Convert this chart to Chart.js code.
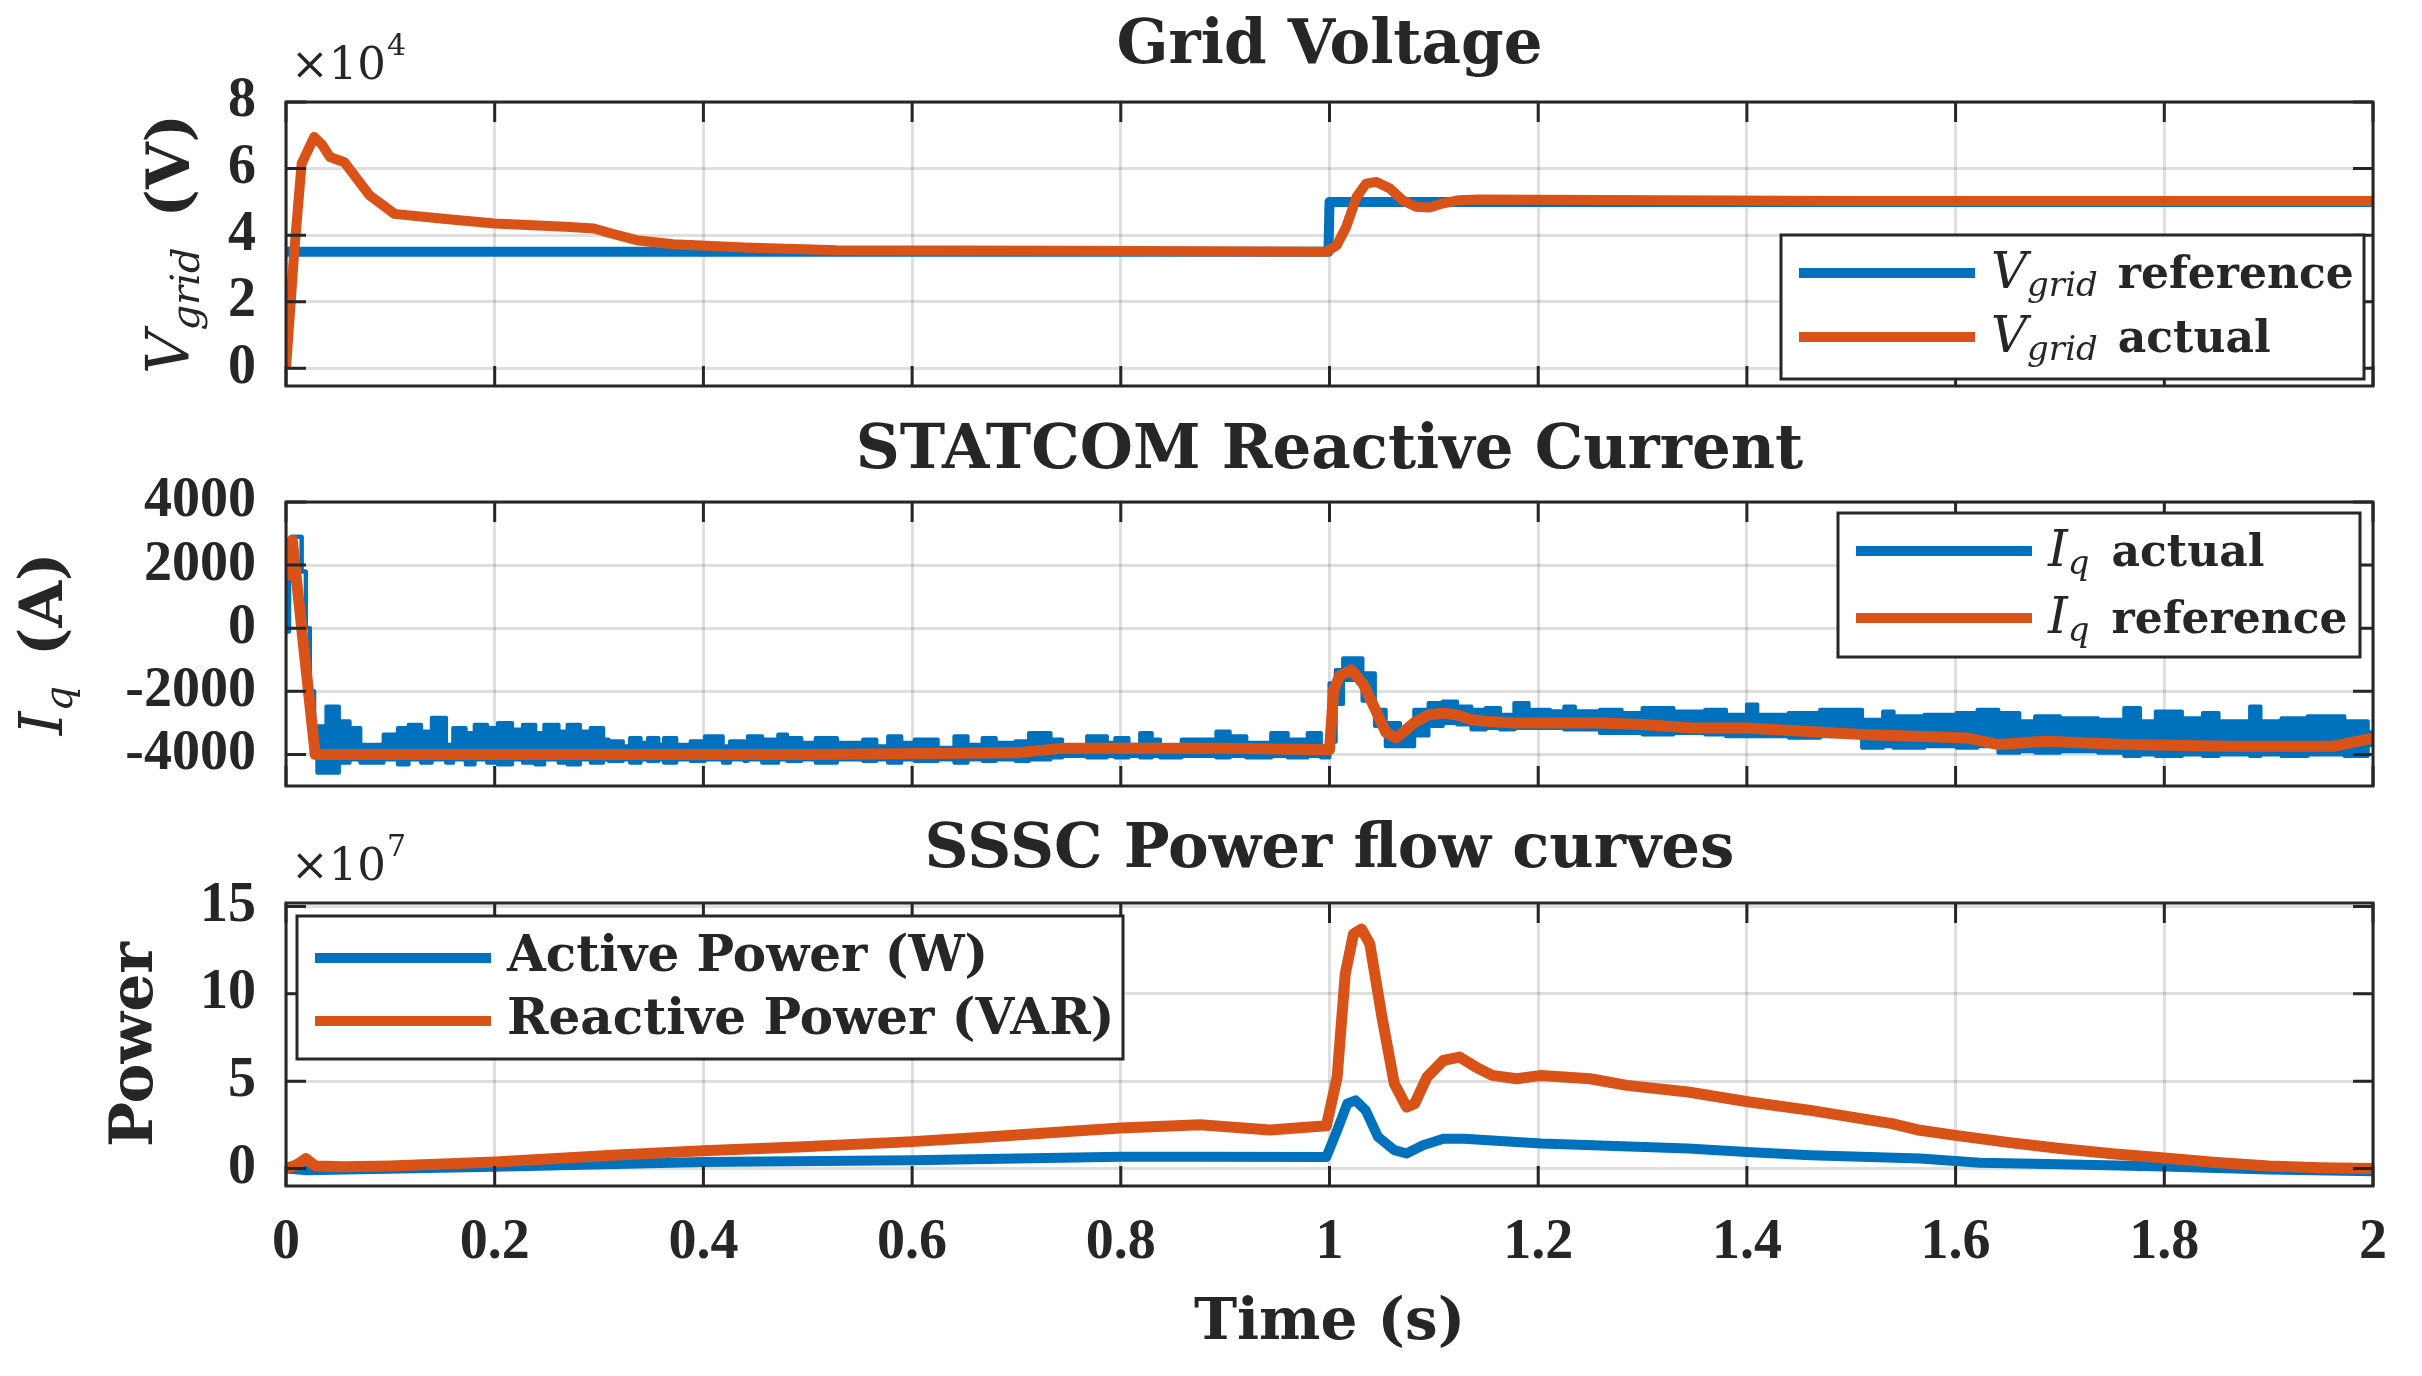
<!DOCTYPE html>
<html>
<head>
<meta charset="utf-8">
<script src="https://cdn.jsdelivr.net/npm/chart.js@4.4.1/dist/chart.umd.min.js"></script>
<style>
    html, body { margin: 0; padding: 0; background: #fff; overflow: hidden; }
    #wrap { position: relative; width: 2422px; height: 1376px; }
    canvas { position: absolute; left: 0; }
</style>
</head>
<body>
<div id="wrap">
    <canvas id="c1" width="2422" height="405" style="top:0px"></canvas>
    <canvas id="c2" width="2422" height="395" style="top:405px"></canvas>
    <canvas id="c3" width="2422" height="576" style="top:800px"></canvas>
</div>
<script>
// ---- data ----
const TIME_TICKS = [0, 0.2, 0.4, 0.6, 0.8, 1, 1.2, 1.4, 1.6, 1.8, 2];

// Grid voltage (V)
const V_TICKS = [0, 20000, 40000, 60000, 80000];
const vRefT = [0, 0.999, 1.0, 2.0];
const vRefV = [35000, 35000, 50000, 50000];
const vActT = [0, 0.008, 0.015, 0.027, 0.035, 0.042, 0.056, 0.080, 0.104, 0.148, 0.200, 0.268, 0.295, 0.312,
    0.336, 0.371, 0.439, 0.528, 0.750, 0.997, 1.007, 1.016, 1.026, 1.035, 1.045, 1.058, 1.070, 1.083, 1.096,
    1.108, 1.124, 1.143, 1.500, 2.000];
const vActV = [0, 35500, 61500, 69500, 67000, 63500, 61900, 52000, 46400, 45000, 43500, 42500, 42000, 40500,
    38500, 37300, 36300, 35500, 35300, 35000, 37000, 42500, 51500, 55500, 56000, 54000, 50500, 48500, 48300,
    49500, 50500, 50700, 50300, 50300];

// STATCOM reactive current (A)
const IQ_TICKS = [-4000, -2000, 0, 2000, 4000];
const iqRefT = [0, 0.006, 0.028, 0.200, 0.500, 0.700, 0.745, 0.900, 1.000, 1.004, 1.010, 1.021, 1.032, 1.044,
    1.054, 1.064, 1.081, 1.095, 1.109, 1.122, 1.136, 1.150, 1.177, 1.260, 1.300, 1.348, 1.400, 1.510, 1.611,
    1.641, 1.686, 1.762, 1.862, 1.962, 2.000];
const iqRefV = [1530, 2790, -4000, -4000, -4000, -3950, -3800, -3800, -3850, -1950, -1500, -1320, -1750, -2580,
    -3300, -3480, -3000, -2740, -2690, -2740, -2900, -2950, -3000, -3000, -3050, -3160, -3160, -3370, -3476,
    -3687, -3582, -3687, -3740, -3740, -3480];
// measured actual current: upper and lower edge of the noisy trace
const iqActT = [0, 0.003, 0.005, 0.015, 0.019, 0.023, 0.027, 0.030, 0.0387, 0.0507, 0.061, 0.0713, 0.0935,
    0.1072, 0.1175, 0.1294, 0.1397, 0.1534, 0.1602, 0.1722, 0.1808, 0.1927, 0.2030, 0.2167, 0.2270, 0.2390,
    0.2475, 0.2612, 0.2698, 0.2817, 0.2920, 0.3040, 0.3091, 0.3228, 0.3297, 0.3399, 0.3468, 0.3570, 0.3622,
    0.3741, 0.3878, 0.4015, 0.4186, 0.4255, 0.4392, 0.4426, 0.4563, 0.4717, 0.4802, 0.4939, 0.5076, 0.5280,
    0.5531, 0.5658, 0.5770, 0.5897, 0.6024, 0.6246, 0.6405, 0.6532, 0.6675, 0.6802, 0.6993, 0.7120, 0.7327,
    0.7438, 0.7677, 0.7867, 0.7947, 0.8074, 0.8185, 0.8297, 0.8376, 0.8583, 0.8916, 0.9044, 0.9203, 0.9441,
    0.9600, 0.9791, 0.9918, 1.0000, 1.0060, 1.0130, 1.0316, 1.0435, 1.0539, 1.0676, 1.0812, 1.0949, 1.1086,
    1.1223, 1.1360, 1.1497, 1.1634, 1.1771, 1.1908, 1.2113, 1.2250, 1.2352, 1.2592, 1.2800, 1.3000, 1.3296,
    1.3600, 1.3800, 1.4000, 1.4100, 1.4400, 1.4702, 1.5104, 1.5305, 1.5406, 1.5700, 1.6009, 1.6210, 1.6410,
    1.6611, 1.6762, 1.7000, 1.7365, 1.7616, 1.7767, 1.7918, 1.8169, 1.8370, 1.8520, 1.8822, 1.8922, 1.9123,
    1.9374, 1.9726, 1.9950, 2.0000];
const iqActHi = [-100, 1500, 2900, 1800, 0, -2000, -3800, -3110, -2480, -2950, -3160, -3690, -3370,
    -3160, -3060, -3270, -2840, -3690, -3160, -3320, -3060, -3160, -3000, -3210, -3060, -3320,
    -3060, -3270, -3060, -3270, -3160, -3530, -3580, -3740, -3480, -3630, -3480, -3690, -3480,
    -3690, -3580, -3420, -3740, -3580, -3740, -3420, -3530, -3370, -3480, -3630, -3480, -3630,
    -3530, -3740, -3420, -3630, -3530, -3790, -3420, -3690, -3480, -3630, -3580, -3320, -3530,
    -3790, -3420, -3630, -3480, -3690, -3320, -3530, -3740, -3530, -3270, -3420, -3630, -3320,
    -3530, -3320, -3740, -1740, -1320, -950, -1425, -2580, -3000, -3210, -2580, -2370, -2320,
    -2480, -2580, -2530, -2740, -2370, -2580, -2630, -2480, -2630, -2580, -2690, -2530, -2640,
    -2580, -2740, -2420, -2740, -2690, -2580, -2900, -2640, -2790, -2740, -2690, -2580, -2690,
    -2950, -2790, -2850, -2900, -2530, -2950, -2640, -2850, -2690, -2950, -2480, -2950, -2850,
    -2790, -2950, -3300, -3300];
const iqActLo = [-100, 1500, 2900, 1800, 0, -2000, -3800, -4580, -4580, -4260, -4160, -4260, -4160,
    -4320, -4160, -4260, -4160, -4260, -4160, -4320, -4160, -4260, -4320, -4160, -4260, -4320,
    -4160, -4260, -4320, -4160, -4260, -4160, -4210, -4160, -4260, -4160, -4210, -4160, -4260,
    -4160, -4210, -4160, -4260, -4160, -4210, -4160, -4260, -4160, -4210, -4160, -4260, -4160,
    -4210, -4160, -4260, -4160, -4210, -4160, -4260, -4160, -4210, -4160, -4210, -4160, -4100,
    -4050, -4100, -4050, -4100, -4050, -4100, -4050, -4100, -4050, -4100, -4050, -4100, -4050,
    -4100, -4050, -4100, -3600, -2400, -1640, -2300, -3100, -3740, -3740, -3400, -3100, -3000,
    -3050, -3210, -3160, -3210, -3160, -3160, -3160, -3210, -3210, -3320, -3320, -3370, -3320,
    -3370, -3420, -3420, -3420, -3470, -3420, -3790, -3740, -3790, -3740, -3790, -3740, -3950,
    -3900, -3950, -3900, -3950, -4050, -4000, -4050, -4000, -4050, -4000, -4050, -4000, -4050,
    -4000, -4050, -3700, -3700];

// SSSC power flow
const P_TICKS = [0, 5e7, 10e7, 15e7];
const pReaT = [0, 0.010, 0.019, 0.028, 0.056, 0.100, 0.200, 0.313, 0.400, 0.496, 0.600, 0.679, 0.753, 0.800,
    0.876, 0.943, 0.997, 1.0073, 1.0151, 1.0230, 1.0308, 1.0386, 1.0503, 1.0621, 1.0738, 1.0816, 1.0934,
    1.1091, 1.1247, 1.1403, 1.1560, 1.1794, 1.2029, 1.2498, 1.2850, 1.3437, 1.4024, 1.4610, 1.5197, 1.5390,
    1.5660, 1.6000, 1.6500, 1.7000, 1.7500, 1.8000, 1.8500, 1.9000, 1.9500, 2.0000];
const pReaV = [0, 0.2e7, 0.57e7, 0.15e7, 0.1e7, 0.15e7, 0.37e7, 0.76e7, 1.02e7, 1.25e7, 1.54e7, 1.83e7, 2.13e7,
    2.32e7, 2.51e7, 2.2e7, 2.45e7, 5.23e7, 11.14e7, 13.43e7, 13.71e7, 12.86e7, 8.66e7, 4.86e7, 3.52e7, 3.71e7,
    5.23e7, 6.19e7, 6.38e7, 5.81e7, 5.33e7, 5.14e7, 5.33e7, 5.14e7, 4.76e7, 4.38e7, 3.81e7, 3.33e7, 2.76e7,
    2.57e7, 2.19e7, 1.9e7, 1.5e7, 1.15e7, 0.85e7, 0.6e7, 0.35e7, 0.15e7, 0.05e7, 0];
const pActT = [0, 0.020, 0.200, 0.400, 0.600, 0.800, 0.876, 0.997, 1.0073, 1.0170, 1.0249, 1.0347, 1.0465,
    1.0621, 1.0738, 1.0895, 1.1091, 1.1286, 1.2029, 1.3437, 1.4000, 1.4610, 1.5660, 1.6230, 1.7000, 1.8000,
    1.9000, 2.0000];
const pActV = [0, -0.1e7, 0.1e7, 0.37e7, 0.47e7, 0.67e7, 0.67e7, 0.66e7, 2.19e7, 3.71e7, 3.9e7, 3.33e7, 1.81e7,
    1.05e7, 0.86e7, 1.33e7, 1.71e7, 1.71e7, 1.43e7, 1.14e7, 0.95e7, 0.76e7, 0.57e7, 0.33e7, 0.25e7, 0.12e7,
    -0.05e7, -0.15e7];

// ---- styling ----
const AXIS = '#262626';
const BLUE = '#0072BD';
const ORANGE = '#D95319';
const GRID = 'rgba(38, 38, 38, 0.15)';
const SERIF = '"DejaVu Serif", serif';
const TICK_FAMILY = '"Liberation Serif", serif';
const TICK_LEN = 20;
const PLOT_RIGHT = 2373;

const pts = (ts, vs) => ts.map((t, i) => ({ x: t, y: vs[i] }));

function richWidth(ctx, parts) {
    let w = 0;
    parts.forEach((p) => {
        ctx.font = p.font;
        w += ctx.measureText(p.text).width + (p.gap || 0);
    });
    return w;
}

function drawRich(ctx, x, y, parts) {
    parts.forEach((p) => {
        ctx.font = p.font;
        ctx.fillText(p.text, x, y + (p.dy || 0));
        x += ctx.measureText(p.text).width + (p.gap || 0);
    });
}

function panelPlugin(cfg) {
    return {
        id: 'panel',
        afterDatasetsDraw(chart) {
            const { ctx, chartArea: a, scales: { x, y } } = chart;
            ctx.save();
            ctx.textBaseline = 'alphabetic';
            ctx.textAlign = 'left';

            // inward ticks and box
            ctx.strokeStyle = AXIS;
            ctx.lineWidth = 3;
            ctx.beginPath();
            x.ticks.forEach((t) => {
                const px = x.getPixelForValue(t.value);
                ctx.moveTo(px, a.bottom); ctx.lineTo(px, a.bottom - TICK_LEN);
                ctx.moveTo(px, a.top); ctx.lineTo(px, a.top + TICK_LEN);
            });
            y.ticks.forEach((t) => {
                const py = y.getPixelForValue(t.value);
                ctx.moveTo(a.left, py); ctx.lineTo(a.left + TICK_LEN, py);
                ctx.moveTo(a.right, py); ctx.lineTo(a.right - TICK_LEN, py);
            });
            ctx.stroke();
            ctx.strokeRect(a.left, a.top, a.right - a.left, a.bottom - a.top);

            // legend
            const L = cfg.legend;
            const bx = a.left + L.x;
            const by = a.top + L.y;
            ctx.fillStyle = '#fff';
            ctx.fillRect(bx, by, L.w, L.h);
            ctx.strokeStyle = AXIS;
            ctx.lineWidth = 3;
            ctx.strokeRect(bx, by, L.w, L.h);
            L.rows.forEach((r, i) => {
                const cy = by + L.rowY[i];
                ctx.strokeStyle = r.color;
                ctx.lineWidth = 10;
                ctx.beginPath();
                ctx.moveTo(bx + 18, cy);
                ctx.lineTo(bx + 194, cy);
                ctx.stroke();
                ctx.fillStyle = AXIS;
                drawRich(ctx, bx + 210, cy + L.textDy, r.parts);
            });

            ctx.fillStyle = AXIS;
            // title
            ctx.font = 'bold 61px ' + SERIF;
            ctx.textAlign = 'center';
            ctx.fillText(cfg.title, (a.left + a.right) / 2, a.top + cfg.titleDy);
            ctx.textAlign = 'left';

            // exponent marker
            if (cfg.exponent) {
                ctx.font = '45px ' + SERIF;
                ctx.fillText('\u00d710', a.left + 5, a.top - 23);
                const w = ctx.measureText('\u00d710').width;
                ctx.font = '30px ' + SERIF;
                ctx.fillText(cfg.exponent, a.left + 5 + w + 1, a.top - 47);
            }

            // y label, rotated
            ctx.save();
            ctx.translate(cfg.yLabelX, (a.top + a.bottom) / 2);
            ctx.rotate(-Math.PI / 2);
            const yw = richWidth(ctx, cfg.yLabel);
            drawRich(ctx, -yw / 2, 0, cfg.yLabel);
            ctx.restore();

            // x label
            if (cfg.xLabel) {
                ctx.font = 'bold 58px ' + SERIF;
                ctx.textAlign = 'center';
                ctx.fillText(cfg.xLabel, (a.left + a.right) / 2, a.bottom + 153);
            }
            ctx.restore();
        },
    };
}

function makePanel(id, cfg) {
    const canvas = document.getElementById(id);
    return new Chart(canvas, {
        type: 'line',
        data: { datasets: cfg.datasets },
        options: {
            responsive: false,
            animation: false,
            devicePixelRatio: 1,
            events: [],
            layout: {
                autoPadding: false,
                padding: { left: 0, right: canvas.width - PLOT_RIGHT, top: cfg.top, bottom: 0 },
            },
            elements: {
                point: { radius: 0 },
                line: { tension: 0, borderJoinStyle: 'round', fill: false },
            },
            plugins: {
                legend: { display: false },
                tooltip: { enabled: false },
                title: { display: false },
            },
            scales: {
                x: {
                    type: 'linear',
                    min: 0,
                    max: 2,
                    afterBuildTicks: (s) => { s.ticks = TIME_TICKS.map((v) => ({ value: v })); },
                    afterFit: (s) => {
                        s.height = cfg.xHeight;
                        s.paddingLeft = 0;
                        s.paddingRight = 0;
                    },
                    grid: { color: GRID, lineWidth: 3, drawTicks: false },
                    border: { display: false },
                    ticks: {
                        display: !!cfg.xLabel,
                        padding: 24,
                        autoSkip: false,
                        maxRotation: 0,
                        color: AXIS,
                        font: { family: TICK_FAMILY, weight: 'bold', size: 56 },
                        callback: (v) => String(Math.round(v * 10) / 10),
                    },
                },
                y: {
                    type: 'linear',
                    min: cfg.yMin,
                    max: cfg.yMax,
                    afterBuildTicks: (s) => { s.ticks = cfg.yTicks.map((v) => ({ value: v })); },
                    afterFit: (s) => {
                        s.width = 286;
                        s.paddingTop = 0;
                        s.paddingBottom = 0;
                    },
                    grid: { color: GRID, lineWidth: 3, drawTicks: false },
                    border: { display: false },
                    ticks: {
                        padding: 30,
                        color: AXIS,
                        font: { family: TICK_FAMILY, weight: 'bold', size: 56 },
                        callback: cfg.yFormat,
                    },
                },
            },
        },
        plugins: [panelPlugin(cfg)],
    });
}

const ital = (t, size, dy, gap) => ({ text: t, font: 'italic ' + size + 'px ' + SERIF, dy: dy || 0, gap: gap || 0 });
const bold = (t, size, gap) => ({ text: t, font: 'bold ' + size + 'px ' + SERIF, gap: gap || 0 });

makePanel('c1', {
    top: 102,
    xHeight: 19,
    yMin: -5300,
    yMax: 80000,
    yTicks: V_TICKS,
    yFormat: (v) => String(v / 1e4),
    title: 'Grid Voltage',
    titleDy: -39,
    exponent: '4',
    yLabelX: 189,
    yLabel: [ital('V', 60), ital('grid', 40, 10, 30), bold('(V)', 60)],
    legend: {
        x: 1495, y: 133, w: 583, h: 144, rowY: [38, 102], textDy: 15,
        rows: [
            { color: BLUE, parts: [ital('V', 50), ital('grid', 34, 8, 20), bold('reference', 44)] },
            { color: ORANGE, parts: [ital('V', 50), ital('grid', 34, 8, 20), bold('actual', 44)] },
        ],
    },
    datasets: [
        { data: pts(vActT, vActV), borderColor: ORANGE, borderWidth: 10, order: 0 },
        { data: pts(vRefT, vRefV), borderColor: BLUE, borderWidth: 10, order: 1 },
    ],
});

makePanel('c2', {
    top: 97,
    xHeight: 14,
    yMin: -5000,
    yMax: 4000,
    yTicks: IQ_TICKS,
    yFormat: (v) => String(v),
    title: 'STATCOM Reactive Current',
    titleDy: -34,
    exponent: null,
    yLabelX: 62,
    yLabel: [ital('I', 60), ital('q', 40, 10, 30), bold('(A)', 60)],
    legend: {
        x: 1552, y: 11, w: 522, h: 144, rowY: [38, 105], textDy: 15,
        rows: [
            { color: BLUE, parts: [ital('I', 50), ital('q', 34, 8, 22), bold('actual', 44)] },
            { color: ORANGE, parts: [ital('I', 50), ital('q', 34, 8, 22), bold('reference', 44)] },
        ],
    },
    datasets: [
        { data: pts(iqRefT, iqRefV), borderColor: ORANGE, borderWidth: 11, order: 0 },
        { data: pts(iqActT, iqActHi), borderColor: BLUE, borderWidth: 4, stepped: true, order: 1 },
        { data: pts(iqActT, iqActLo), borderColor: BLUE, borderWidth: 4, stepped: true, order: 2,
          fill: '-1', backgroundColor: BLUE },
    ],
});

makePanel('c3', {
    top: 103,
    xHeight: 190,
    yMin: -1.0e7,
    yMax: 15.2e7,
    yTicks: P_TICKS,
    yFormat: (v) => String(Math.round(v / 1e7)),
    title: 'SSSC Power flow curves',
    titleDy: -36,
    exponent: '7',
    xLabel: 'Time (s)',
    yLabelX: 152,
    yLabel: [bold('Power', 60)],
    legend: {
        x: 11, y: 13, w: 826, h: 143, rowY: [42, 105], textDy: 13,
        rows: [
            { color: BLUE, parts: [bold('Active Power (W)', 50)] },
            { color: ORANGE, parts: [bold('Reactive Power (VAR)', 50)] },
        ],
    },
    datasets: [
        { data: pts(pReaT, pReaV), borderColor: ORANGE, borderWidth: 11, order: 0 },
        { data: pts(pActT, pActV), borderColor: BLUE, borderWidth: 10, order: 1 },
    ],
});
</script>
</body>
</html>
